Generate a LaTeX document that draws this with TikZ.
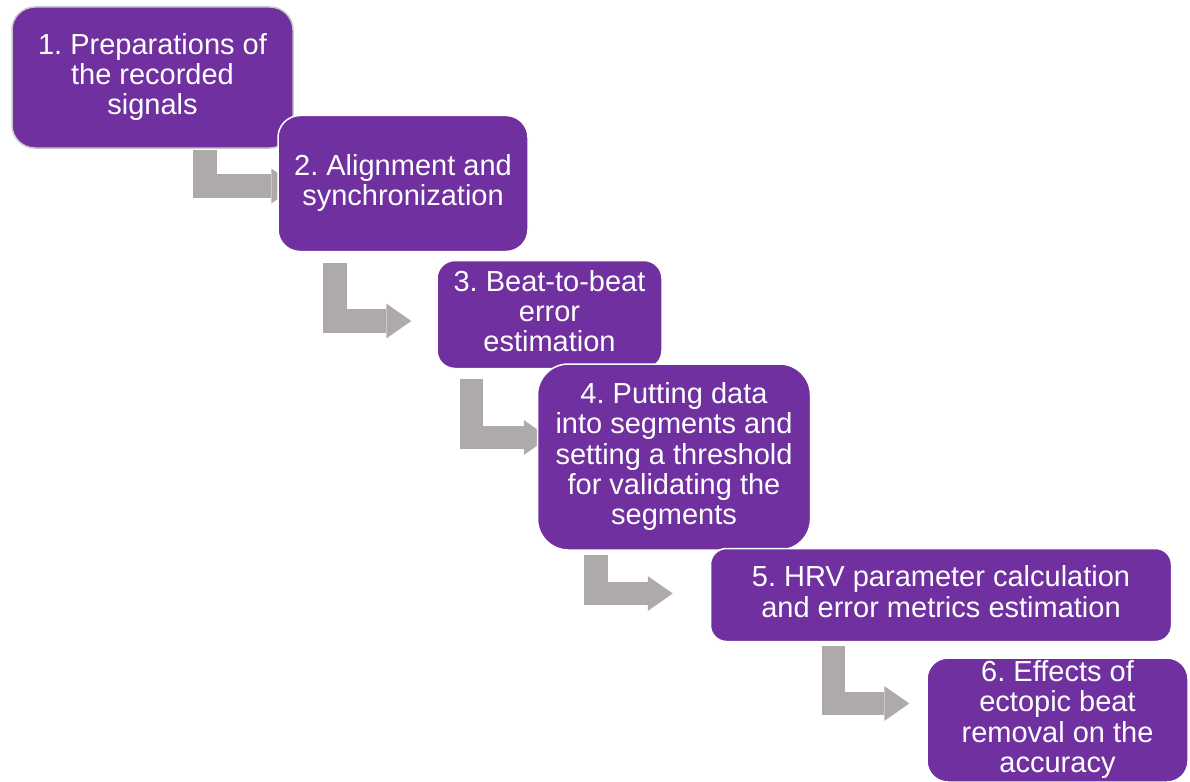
\documentclass[tikz,border=0pt]{standalone}
\usepackage{fontspec}
\setmainfont{Liberation Sans}
\usetikzlibrary{arrows.meta,backgrounds}
\definecolor{stepviolet}{HTML}{7030A0}
\definecolor{stepgrey}{HTML}{AEAAAA}
\newcommand{\linestrut}{\rule[-7pt]{0pt}{37pt}}
\begin{document}
\begin{tikzpicture}[x=1pt,y=-1pt]
  \useasboundingbox (0,0) rectangle (1190,781);

  % Stile.
  \tikzstyle{stepbox}=[draw=white, line width=1.5pt, fill=stepviolet, text=white, align=center, inner sep=0pt, font=\fontsize{29}{30.3}\selectfont\frenchspacing, execute at begin node=\linestrut, execute at end node=\linestrut]
  \tikzstyle{bent}=[draw=stepgrey, line width=23.5pt, line join=miter, -{Triangle[width=35pt, length=25pt, line width=0pt]}]

  % Kaesten.
  \node[stepbox, draw=black!22, minimum width=281pt, minimum height=141pt, rounded corners=23pt] (b1) at (152.5,77.5) {1. Preparations of\\the recorded\\signals};
  \node[stepbox, minimum width=250pt, minimum height=136pt, rounded corners=22pt] (b2) at (403,183.5) {2. Alignment and\\synchronization};
  \node[stepbox, minimum width=225pt, minimum height=108pt, rounded corners=18pt] (b3) at (549.5,314.5) {3. Beat-to-beat\\error\\estimation};
  \node[stepbox, minimum width=273pt, minimum height=186pt, rounded corners=31pt] (b4) at (674,457) {4. Putting data\\into segments and\\setting a threshold\\for validating the\\segments};
  \node[stepbox, minimum width=461pt, minimum height=93pt, rounded corners=16pt] (b5) at (941,595) {5. HRV parameter calculation\\and error metrics estimation};
  \node[stepbox, minimum width=261pt, minimum height=124pt, rounded corners=21pt] (b6) at (1057.5,720) {6. Effects of\\ectopic beat\\removal on the\\accuracy};

  % Pfeile.
  \coordinate (k1) at (205,186);
  \coordinate (k2) at (335,321);
  \coordinate (k3) at (471.5,437.5);
  \coordinate (k4) at (596,593.5);
  \coordinate (k5) at (833.5,703.5);

  \begin{scope}[on background layer]
    \draw[bent, shorten <=1.5pt, shorten >=-19pt] (k1 |- b1.south) -- (k1) -- (k1 -| b2.west);
    \draw[bent, shorten <=10.5pt, shorten >=25pt] (k2 |- b2.south) -- (k2) -- (k2 -| b3.west);
    \draw[bent, shorten <=9.5pt, shorten >=-12pt] (k3 |- b3.south) -- (k3) -- (k3 -| b4.west);
    \draw[bent, shorten <=4pt, shorten >=37pt] (k4 |- b4.south) -- (k4) -- (k4 -| b5.west);
    \draw[bent, shorten <=3.5pt, shorten >=17pt] (k5 |- b5.south) -- (k5) -- (k5 -| b6.west);
  \end{scope}
\end{tikzpicture}
\end{document}
